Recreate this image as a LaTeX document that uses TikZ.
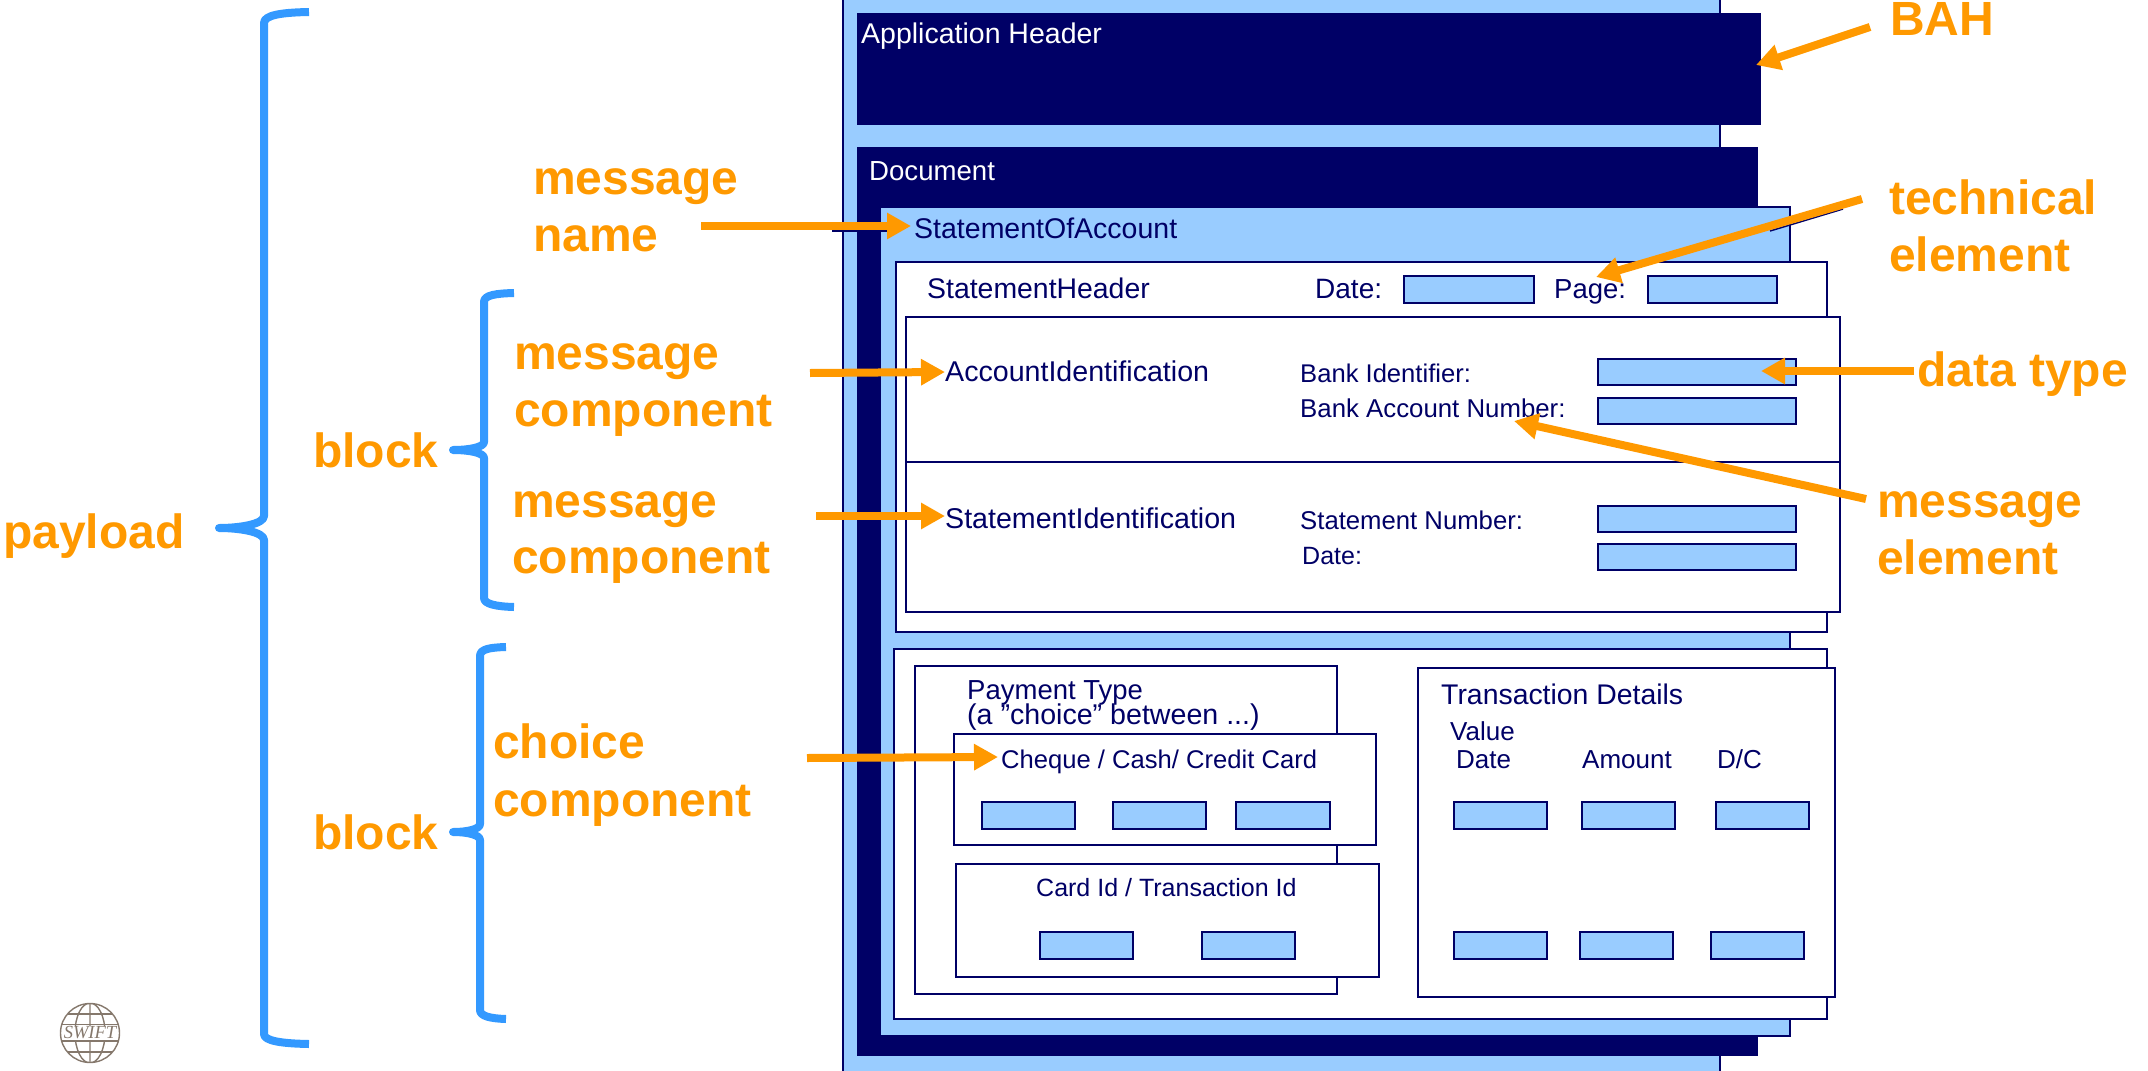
\documentclass[tikz,border=0pt]{standalone}
\usepackage{fontspec}
\setmainfont{Liberation Sans}
\newfontfamily\logofont{Liberation Serif}
\usetikzlibrary{arrows.meta}
\definecolor{navy}{HTML}{000066}
\definecolor{skyfill}{HTML}{99CCFF}
\definecolor{orangeink}{HTML}{FF9900}
\definecolor{braceblue}{HTML}{3399FF}
\definecolor{logoink}{HTML}{85786C}
\newcommand{\pxfont}[1]{\fontsize{#1}{#1}\selectfont}
\newcommand{\bx}[6]{\node[#6,minimum width={(#4-#2)*1pt},minimum height={(#5-#3)*1pt}] (#1) at (#2,#3) {};}
\tikzset{
  basebox/.style={anchor=north west,inner sep=0pt,outer sep=0pt,draw=navy,line width=2.4pt},
  darkbox/.style={basebox,fill=navy},
  skybox/.style={basebox,fill=skyfill},
  whitebox/.style={basebox,fill=white},
  field/.style={basebox,fill=skyfill,line width=2.8pt},
  txt/.style={anchor=base west,inner sep=0pt,text=navy,font=\pxfont{#1}},
  txt/.default=26,
  wtxt/.style={anchor=base west,inner sep=0pt,text=white,font=\pxfont{28.5}},
  lab/.style={anchor=base west,inner sep=0pt,text=orangeink,font=\bfseries\pxfont{48}},
  callout/.style={draw=orangeink,line width=8pt,-{Triangle[length=24pt,width=25pt]}},
  bracket/.style={draw=braceblue,line width=8pt,line join=round},
  ghost/.style={draw=navy,line width=1.5pt},
  globe/.style={draw=logoink,line width=1.4pt}
}
\begin{document}
\begin{tikzpicture}[x=1pt,y=-1pt]
\useasboundingbox (0,0) rectangle (2148,1071);
% outer sheet
\fill[skyfill] (843,0) rectangle (1720,1071);
\draw[navy,line width=2.4pt] (843,0) -- (843,1071) (1720,0) -- (1720,1071);
\bx{apphead}{858}{14}{1760}{124}{darkbox}
\bx{docu}{858}{148}{1757}{1055}{darkbox}
\bx{soa}{880}{207}{1790}{1036}{skybox}
\bx{sthead}{896}{262}{1827}{632}{whitebox}
\bx{acct}{906}{317}{1840}{612}{whitebox}
\coordinate (divL) at (906,462);
\coordinate (divR) at (1840,462);
\draw[navy,line width=2.4pt] (divL) -- (divR);
\bx{lower}{894}{649}{1827}{1019}{whitebox}
\bx{paytype}{915}{666}{1337}{994}{whitebox}
\bx{cheque}{954}{734}{1376}{845}{whitebox}
\bx{cardid}{956}{864}{1379}{977}{whitebox}
\bx{trans}{1418}{668}{1835}{997}{whitebox}
% fields
\bx{fDate}{1404}{276}{1534}{303}{field}
\bx{fPage}{1648}{276}{1777}{303}{field}
\bx{fA}{1598}{359}{1796}{385}{field}
\bx{fB}{1598}{398}{1796}{424}{field}
\bx{fC}{1598}{506}{1796}{532}{field}
\bx{fD}{1598}{544}{1796}{570}{field}
\bx{fE}{982}{802}{1075}{829}{field}
\bx{fF}{1113}{802}{1206}{829}{field}
\bx{fG}{1236}{802}{1330}{829}{field}
\bx{fH}{1040}{932}{1133}{959}{field}
\bx{fI}{1202}{932}{1295}{959}{field}
\bx{fJ}{1454}{802}{1547}{829}{field}
\bx{fK}{1582}{802}{1675}{829}{field}
\bx{fL}{1716}{802}{1809}{829}{field}
\bx{fM}{1454}{932}{1547}{959}{field}
\bx{fN}{1580}{932}{1673}{959}{field}
\bx{fO}{1711}{932}{1804}{959}{field}
% inner texts
\node[wtxt] (tApp) at (861,43) {Application Header};
\node[wtxt,font=\pxfont{27.6}] (tDoc) at (869,180) {Document};
\node[txt=28.5] (tSoa) at (914,238) {StatementOfAccount};
\node[txt=28.4] (tSh) at (927,298) {StatementHeader};
\node[txt=28] (tDate) at (1315,298) {Date:};
\node[txt=27.5] (tPage) at (1554,298) {Page:};
\node[txt=28.6] (tAi) at (945,381) {AccountIdentification};
\node[txt=25.6] (tBi) at (1300,382) {Bank Identifier:};
\node[txt=25.8] (tBan) at (1300,417) {Bank Account Number:};
\node[txt=28.6] (tSi) at (945,528) {StatementIdentification};
\node[txt=25.7] (tSn) at (1300,529) {Statement Number:};
\node[txt=25] (tD2) at (1302,564) {Date:};
\node[txt=27.5] (tPt) at (967,699) {Payment Type};
\node[txt=28.6] (tCh) at (967,724) {(a "choice" between ...)};
\node[txt=25.6] (tCq) at (1001,768) {Cheque / Cash/ Credit Card};
\node[txt=25] (tCi) at (1036,896) {Card Id / Transaction Id};
\node[txt=28.4] (tTd) at (1441,704) {Transaction Details};
\node[txt=26] (tVal) at (1450,740) {Value};
\node[txt=26] (tVd) at (1456,768) {Date};
\node[txt=26] (tAm) at (1582,768) {Amount};
\node[txt=26] (tDc) at (1717,768) {D/C};
% orange labels
\node[lab] (lPay) at (3,548) {payload};
\node[lab] (lB1) at (313,467) {block};
\node[lab] (lB2) at (313,849) {block};
\node[lab] (lMn1) at (533,194.5) {message};
\node[lab] (lMn2) at (533,251.5) {name};
\node[lab] (lMc1) at (514,369.5) {message};
\node[lab] (lMc2) at (514,426.5) {component};
\node[lab] (lMd1) at (512,517.5) {message};
\node[lab] (lMd2) at (512,573.5) {component};
\node[lab] (lCc1) at (493,758.5) {choice};
\node[lab] (lCc2) at (493,816.5) {component};
\node[lab] (lBah) at (1890,35.5) {BAH};
\node[lab] (lTe1) at (1889,214.5) {technical};
\node[lab] (lTe2) at (1889,271.5) {element};
\node[lab] (lDt) at (1917,386.5) {data type};
\node[lab] (lMe1) at (1877,517.5) {message};
\node[lab] (lMe2) at (1877,574.5) {element};
% thin traces beside two arrows
\coordinate (gA) at (832,231);
\coordinate (gB) at (890,231);
\coordinate (gC) at (1843,209);
\coordinate (gD) at (1770,231);
\draw[ghost] (gA) -- (gB);
\draw[ghost] (gC) -- (gD);
% arrows
\coordinate (aBahS) at (1870,27);   \coordinate (aBahE) at (1756,65);
\coordinate (aTecS) at (1862,199);  \coordinate (aTecE) at (1596,277);
\coordinate (aDatS) at (1914,371);  \coordinate (aDatE) at (1761,371);
\coordinate (aMelS) at (1866,499);  \coordinate (aMelE) at (1514,421);
\coordinate (aNamS) at (701,226);   \coordinate (aNamE) at (911,226);
\coordinate (aCm1S) at (810,373);   \coordinate (aCm1E) at (945,372);
\coordinate (aCm2S) at (816,516);   \coordinate (aCm2E) at (945,516);
\coordinate (aChoS) at (807,758);   \coordinate (aChoE) at (998,757);
\draw[callout] (aBahS) -- (aBahE);
\draw[callout] (aTecS) -- (aTecE);
\draw[callout] (aDatS) -- (aDatE);
\draw[callout] (aMelS) -- (aMelE);
\draw[callout] (aNamS) -- (aNamE);
\draw[callout] (aCm1S) -- (aCm1E);
\draw[callout] (aCm2S) -- (aCm2E);
\draw[callout] (aChoS) -- (aChoE);
% braces
\draw[bracket] (309,12) .. controls (282,12.5) and (264,15) .. (264,23) -- (264,516)
  .. controls (264,524) and (240,528) .. (219,528) .. controls (240,528) and (264,532) .. (264,540)
  -- (264,1034) .. controls (264,1041) and (282,1043.5) .. (309,1044);
\draw[bracket] (514,293) .. controls (496,293.5) and (484,295) .. (484,302) -- (484,442)
  .. controls (484,447) and (470,450) .. (453,450) .. controls (470,450) and (484,453) .. (484,458)
  -- (484,598) .. controls (484,604) and (496,606.5) .. (514,607);
\draw[bracket] (506,647) .. controls (490,647.5) and (480,649) .. (480,656) -- (480,824)
  .. controls (480,829) and (468,832) .. (453,832) .. controls (468,832) and (480,835) .. (480,840)
  -- (480,1010) .. controls (480,1016) and (490,1018.5) .. (506,1019);
% logo
\coordinate (logoC) at (90,1033);
\begin{scope}
  \clip (logoC) circle[radius=29.5];
  \draw[globe] (60,1014) -- (120,1014) (60,1052) -- (120,1052) (60,1024.5) -- (120,1024.5) (60,1041) -- (120,1041);
  \draw[globe] (logoC) ellipse[x radius=15,y radius=30] (90,1000) -- (90,1066);
\end{scope}
\fill[white] (61,1025.5) rectangle (119,1040);
\draw[globe] (logoC) circle[radius=29.5];
\node[inner sep=0pt,text=logoink,font=\logofont\itshape\pxfont{18.5}] (logoT) at (90,1033) {SWIFT};
\end{tikzpicture}
\end{document}
